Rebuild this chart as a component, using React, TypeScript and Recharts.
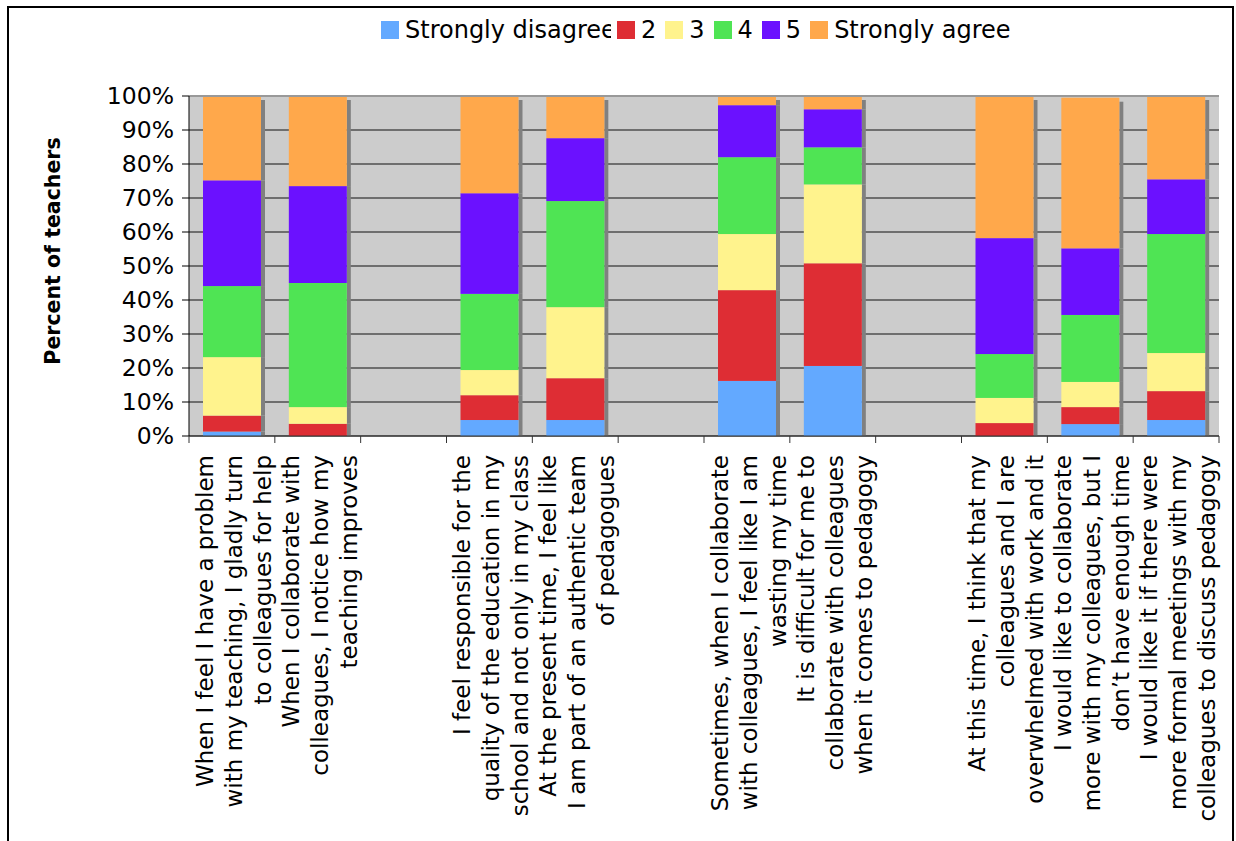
import React from "react";
import { BarChart, Bar, XAxis, YAxis, CartesianGrid, ReferenceLine } from "recharts";

const statements: string[][] = [
  ["When I feel I have a problem", "with my teaching, I gladly turn", "to colleagues for help"],
  ["When I collaborate with", "colleagues, I notice how my", "teaching improves"],
  [],
  ["I feel responsible for the", "quality of the education in my", "school and not only in my class"],
  ["At the present time, I feel like", "I am part of an authentic team", "of pedagogues"],
  [],
  ["Sometimes, when I collaborate", "with colleagues, I feel like I am", "wasting my time"],
  ["It is difficult for me to", "collaborate with colleagues", "when it comes to pedagogy"],
  [],
  ["At this time, I think that my", "colleagues and I are", "overwhelmed with work and it"],
  ["I would like to collaborate", "more with my colleagues, but I", "don\u2019t have enough time"],
  ["I would like it if there were", "more formal meetings with my", "colleagues to discuss pedagogy"],
];

const stronglyDisagree = [1.3, 0, null, 4.7, 4.7, null, 16.2, 20.6, null, 0, 3.5, 4.7];
const answer2 = [4.7, 3.6, null, 7.3, 12.3, null, 26.7, 30.2, null, 3.8, 5.0, 8.5];
const answer3 = [17.2, 4.9, null, 7.4, 20.9, null, 16.5, 23.2, null, 7.4, 7.4, 11.2];
const answer4 = [20.9, 36.5, null, 22.4, 31.2, null, 22.6, 10.9, null, 12.9, 19.7, 35.0];
const answer5 = [31.1, 28.5, null, 29.6, 18.5, null, 15.3, 11.2, null, 34.1, 19.6, 16.1];
const stronglyAgree = [24.8, 26.5, null, 28.6, 12.4, null, 2.7, 3.9, null, 41.8, 44.3, 24.5];

const seriesNames = ["Strongly disagree", "2", "3", "4", "5", "Strongly agree"];
const seriesValues = [stronglyDisagree, answer2, answer3, answer4, answer5, stronglyAgree];
const seriesColors = ["#63a9ff", "#de2d34", "#fff38d", "#4fe454", "#6b11ff", "#ffa84b"];

const yTicks = [0, 10, 20, 30, 40, 50, 60, 70, 80, 90, 100];

const chartData = statements.map((_, i) => {
  const row: Record<string, number | null> = { slot: i };
  seriesValues.forEach((vals, s) => {
    row["s" + s] = vals[i];
  });
  return row;
});

const FONT = "DejaVu Sans";
const PLOT_W = 1030;

function ShadowRect(props: any) {
  const { x, y, width, height, fill, isTop } = props;
  if (!(height > 0)) return null;
  const off = isTop ? 4 : 0;
  return (
    <g>
      <rect x={x + width} y={y + off} width={4} height={Math.max(0, height - off)} fill="#808080" />
      <rect x={x} y={y} width={width} height={height} fill={fill} />
    </g>
  );
}

function StatementTick(props: any) {
  const { x, y, payload } = props;
  const i = Number(payload.value);
  const half = payload.offset || PLOT_W / statements.length / 2;
  const lines = statements[i] || [];
  const axisY = y - 7;
  return (
    <g>
      <line x1={x - half} x2={x - half} y1={axisY} y2={axisY + 7} stroke="#333" />
      {i === statements.length - 1 && (
        <line x1={x + half} x2={x + half} y1={axisY} y2={axisY + 7} stroke="#333" />
      )}
      {lines.map((line, k) => {
        const cx = x + 2 + (k - (lines.length - 1) / 2) * 29;
        return (
          <text
            key={k}
            transform={`translate(${cx},${axisY + 19}) rotate(-90)`}
            textAnchor="end"
            dominantBaseline="central"
            fontSize={23}
            fontFamily={FONT}
            fill="#000"
          >
            {line}
          </text>
        );
      })}
    </g>
  );
}

function AxisTitle(props: any) {
  const vb = props.viewBox || { x: 89, y: 96, width: 100, height: 340 };
  const cx = vb.x + vb.width - 136;
  const cy = vb.y + vb.height / 2 - 15;
  return (
    <text
      x={cx}
      y={cy}
      transform={`rotate(-90, ${cx}, ${cy})`}
      textAnchor="middle"
      dominantBaseline="central"
      fontSize={20.5}
      fontWeight="bold"
      fontFamily={FONT}
      fill="#000"
    >
      Percent of teachers
    </text>
  );
}

export default function App() {
  return (
    <div style={{ position: "relative", width: 1236, height: 841, overflow: "hidden", background: "#fff" }}>
      <style>{`body{margin:0}`}</style>
      <div
        style={{
          position: "absolute",
          left: 7,
          top: 6,
          width: 1227,
          height: 900,
          border: "2px solid #000",
          boxSizing: "border-box",
        }}
      />
      <div style={{ position: "absolute", left: 0, top: 0 }}>
        <BarChart
          width={1236}
          height={841}
          data={chartData}
          margin={{ top: 96, right: 17, left: 89, bottom: 25 }}
          style={{ fontFamily: FONT }}
        >
          <CartesianGrid vertical={false} stroke="#111" fill="#cccccc" fillOpacity={1} />
          <XAxis
            dataKey="slot"
            type="category"
            interval={0}
            height={380}
            tickLine={false}
            tickSize={7}
            tickMargin={0}
            axisLine={{ stroke: "#333" }}
            tick={(p: any) => <StatementTick {...p} />}
          />
          <YAxis
            type="number"
            domain={[0, 100]}
            ticks={yTicks}
            tickFormatter={(v: number) => `${v}%`}
            width={100}
            tickSize={7}
            tickMargin={8}
            axisLine={{ stroke: "#000" }}
            tickLine={{ stroke: "#000" }}
            tick={{ fill: "#000", fontSize: 23.5, fontFamily: FONT }}
            label={{ content: (p: any) => <AxisTitle {...p} /> }}
          />
          <YAxis
            yAxisId="right"
            orientation="right"
            domain={[0, 100]}
            width={0}
            tick={false}
            tickLine={false}
            axisLine={{ stroke: "#999", strokeWidth: 2 }}
          />
          {seriesNames.map((name, s) => (
            <Bar
              key={name}
              dataKey={"s" + s}
              name={name}
              stackId="a"
              fill={seriesColors[s]}
              barSize={58}
              isAnimationActive={false}
              shape={(p: any) => <ShadowRect {...p} isTop={s === seriesNames.length - 1} />}
            />
          ))}
          <ReferenceLine y={100} stroke="#999" strokeWidth={2} />
        </BarChart>
      </div>
      <div
        style={{
          position: "absolute",
          left: 381,
          top: 17,
          width: 640,
          height: 26,
          display: "flex",
          alignItems: "center",
          whiteSpace: "nowrap",
          fontFamily: FONT,
          fontSize: 24,
          lineHeight: "26px",
          color: "#000",
        }}
      >
        {seriesNames.map((name, s) => (
          <div key={name} style={{ display: "flex", alignItems: "center", flexShrink: 0 }}>
            <span style={{ width: 18, height: 18, background: seriesColors[s], marginRight: 6 }} />
            <span
              style={
                name.length > 3
                  ? { display: "inline-block", width: 206, overflow: "hidden", marginRight: 6 }
                  : { marginRight: 9 }
              }
            >
              {name}
            </span>
          </div>
        ))}
      </div>
    </div>
  );
}
